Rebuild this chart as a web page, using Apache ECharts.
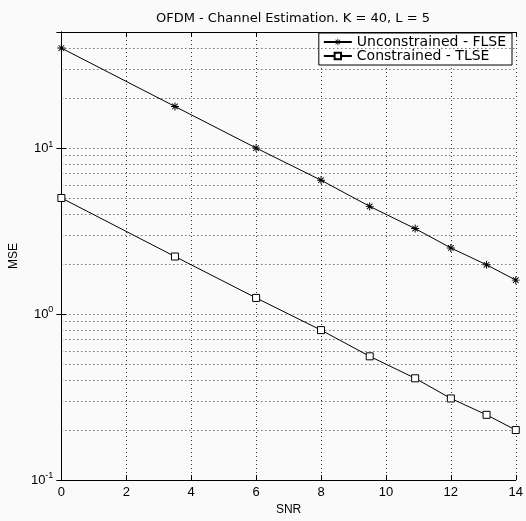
<!DOCTYPE html>
<html>
<head>
<meta charset="utf-8">
<script src="https://cdn.jsdelivr.net/npm/echarts@6/dist/echarts.min.js"></script>
<style>
  html, body { margin: 0; padding: 0; background: #fafafa; }
  #chart { width: 526px; height: 521px; }
</style>
</head>
<body>
<div id="chart"></div>
<script>
var snr = [0, 3.5, 6, 8, 9.5, 10.9, 12, 13.1, 14];
var flse = [40, 17.8, 10, 6.4, 4.45, 3.27, 2.5, 1.98, 1.6];
var tlse = [5, 2.22, 1.25, 0.8, 0.556, 0.41, 0.31, 0.247, 0.2];
var minorGrid = [0.2, 0.3, 0.4, 0.5, 0.6, 0.7, 0.8, 0.9,
                 2, 3, 4, 5, 6, 7, 8, 9, 20, 30, 40];

var font = 'Liberation Sans';
var wide = 'DejaVu Sans';
var starPath = 'path://M-0.6,-5 L0.6,-5 L0.6,5 L-0.6,5 Z M-5,-0.6 L5,-0.6 L5,0.6 L-5,0.6 Z ' +
    'M-3.9,-3.1 L-3.1,-3.9 L3.9,3.1 L3.1,3.9 Z M3.1,-3.9 L3.9,-3.1 L-3.1,3.9 L-3.9,3.1 Z';

function pairs(ys) {
    return snr.map(function (x, i) { return [x, ys[i]]; });
}

var dotted = { color: '#333', width: 1, type: [1, 3] };

var myChart = echarts.init(document.getElementById('chart'));
var option = {
    backgroundColor: '#fafafa',
    animation: false,
    textStyle: { fontFamily: font },
    title: {
        text: 'OFDM - Channel Estimation. K = 40, L = 5',
        left: 288, top: 7, textAlign: 'center',
        textStyle: { fontFamily: wide, fontSize: 13, fontWeight: 'normal', color: '#000' }
    },
    legend: {
        orient: 'vertical',
        right: 14, top: 33,
        itemWidth: 28, itemHeight: 8, itemGap: 0,
        padding: [2, 6, 2, 4],
        borderColor: '#000', borderWidth: 1,
        backgroundColor: '#fff',
        textStyle: { fontFamily: wide, fontSize: 14, color: '#000' },
        data: ['Unconstrained - FLSE', 'Constrained - TLSE']
    },
    grid: { left: 59, right: 10, top: 32, bottom: 36 },
    xAxis: [{
        type: 'value', min: 0, max: 14, interval: 2,
        name: 'SNR', nameLocation: 'middle', nameGap: 24,
        nameTextStyle: { fontFamily: font, fontSize: 12, color: '#000' },
        axisLine: { lineStyle: { color: '#000' } },
        axisTick: { inside: true, length: 5, lineStyle: { color: '#000' } },
        axisLabel: { fontFamily: font, fontSize: 13, color: '#000', margin: 6 },
        splitLine: { show: true, lineStyle: dotted }
    }, {
        type: 'value', min: 0, max: 14, interval: 2, position: 'top',
        axisLine: { lineStyle: { color: '#000' } },
        axisTick: { inside: true, length: 5, lineStyle: { color: '#000' } },
        axisLabel: { show: false },
        splitLine: { show: false }
    }],
    yAxis: [{
        type: 'log', logBase: 10, min: 0.1, max: 50,
        name: 'MSE', nameLocation: 'middle', nameGap: 30,
        nameTextStyle: { fontFamily: font, fontSize: 12, color: '#000' },
        axisLine: { lineStyle: { color: '#000' } },
        axisTick: { inside: true, length: 5, lineStyle: { color: '#000' } },
        axisLabel: {
            fontFamily: font, fontSize: 13, color: '#000', margin: 8,
            formatter: function (v) {
                var e = Math.round(Math.log10(v));
                if (Math.abs(Math.log10(v) - e) > 1e-6) return '';
                return '10{sup|' + e + '}';
            },
            rich: { sup: { fontSize: 9, verticalAlign: 'top', padding: [0, 0, 8, 0], fontFamily: font, color: '#000' } }
        },
        splitLine: { show: true, lineStyle: dotted }
    }, {
        type: 'log', logBase: 10, min: 0.1, max: 50, position: 'right',
        axisLine: { lineStyle: { color: '#000' } },
        axisTick: { inside: true, length: 5, lineStyle: { color: '#000' } },
        axisLabel: { show: false },
        splitLine: { show: false }
    }],
    series: [{
        name: 'Unconstrained - FLSE',
        type: 'line',
        data: pairs(flse),
        symbol: starPath, symbolSize: 8, showAllSymbol: true,
        lineStyle: { color: '#000', width: 1 },
        itemStyle: { color: '#000' },
        markLine: {
            silent: true, symbol: 'none',
            label: { show: false },
            lineStyle: dotted,
            data: minorGrid.map(function (v) { return { yAxis: v }; })
        },
        z: 5
    }, {
        name: 'Constrained - TLSE',
        type: 'line',
        data: pairs(tlse),
        symbol: 'rect', symbolSize: 7, showAllSymbol: true,
        lineStyle: { color: '#000', width: 1 },
        itemStyle: { color: '#fff', borderColor: '#000', borderWidth: 1 },
        z: 5
    }]
};
myChart.setOption(option);
</script>
</body>
</html>
